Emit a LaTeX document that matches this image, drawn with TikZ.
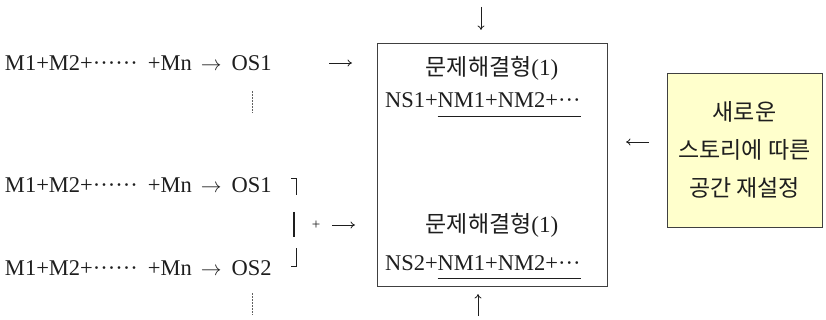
\documentclass[tikz,border=0pt]{standalone}
\usepackage{fontspec}
\setmainfont{Liberation Serif}
\newfontfamily\kr{Noto Sans CJK KR}
\usetikzlibrary{arrows.meta}
\definecolor{memo}{RGB}{255,255,204}
\definecolor{ink}{RGB}{30,30,30}
\newcommand{\rowarrow}{\hspace{9pt}$\rightarrow$\hspace{10pt}}
\tikzset{
  txt/.style={inner sep=0pt, outer sep=0pt, font=\fontsize{22.5}{27}\selectfont, text=ink},
  ktxt/.style={inner sep=0pt, outer sep=0pt, font=\kr\fontsize{23}{27}\selectfont, text=ink},
  conn/.style={draw=ink, line width=0.8pt, -{To[length=4.5pt,width=7pt]}},
  dots/.style={draw=ink!70, line width=0.6pt, dash pattern=on 1.6pt off 1.4pt},
  brk/.style={draw=ink, line width=0.9pt},
  mainbox/.style={draw=ink!85, line width=0.9pt},
  memobox/.style={draw=ink!85, line width=0.8pt, fill=memo, minimum width=155pt, minimum height=154pt, inner sep=0pt, align=center, font=\kr\fontsize{23}{38}\selectfont, text=ink},
  uline/.style={draw=ink, line width=0.8pt}
}
\begin{document}
\begin{tikzpicture}[x=1pt,y=-1pt]
\useasboundingbox (0,0) rectangle (826,320);
% main box
\node[mainbox, minimum width=230pt, minimum height=243pt, inner sep=0pt] (box) at (492,164.5) {};
% left rows
\node[txt, anchor=west] (r1) at (5,63) {M1+M2+······\hspace{10pt}+Mn\rowarrow OS1};
\node[txt, anchor=west] (r2) at (5,185) {M1+M2+······\hspace{10pt}+Mn\rowarrow OS1};
\node[txt, anchor=west] (r3) at (5,268) {M1+M2+······\hspace{10pt}+Mn\rowarrow OS2};
% box contents
\node[ktxt] (t1) at (492,68) {문제해결형\fontspec{Liberation Serif}(1)};
\node[txt, anchor=base west] (n1a) at (385,108) {NS1+};
\node[txt, anchor=base west] (n1b) at (n1a.base east) {NM1+NM2+···};
\draw[uline] ([yshift=-8pt]n1b.base west) -- (581,116) coordinate (u1);
\node[ktxt] (t2) at (492,225) {문제해결형\fontspec{Liberation Serif}(1)};
\node[txt, anchor=base west] (n2a) at (385,270) {NS2+};
\node[txt, anchor=base west] (n2b) at (n2a.base east) {NM1+NM2+···};
\draw[uline] ([yshift=-8pt]n2b.base west) -- (581,278) coordinate (u2);
% memo box
\node[memobox] (memo) at (744.5,150) {새로운\\스토리에 따른\\공간 재설정};
% standalone arrows
\coordinate (dtop) at (481,7);
\coordinate (dtope) at (481,30);
\draw[conn] (dtop) -- (dtope);
\coordinate (ubot) at (478,316);
\coordinate (ubote) at (478,294);
\draw[conn] (ubot) -- (ubote);
\coordinate (a1s) at (329,63);
\coordinate (a1e) at (352,63);
\draw[conn] (a1s) -- (a1e);
\coordinate (a2s) at (649,142);
\coordinate (a2e) at (626,142);
\draw[conn] (a2s) -- (a2e);
\coordinate (a3s) at (332,225);
\coordinate (a3e) at (355,225);
\draw[conn] (a3s) -- (a3e);
\node[txt, font=\fontsize{15}{18}\selectfont] (plus) at (316,225) {+};
% brackets
\draw[brk] (291,178) -- (296,178) -- (296,195);
\draw[brk, line width=1.3pt] (294,212) -- (294,237);
\draw[brk] (296,248) -- (296,266) -- (291,266);
% dotted continuations
\coordinate (d1a) at (252,91);
\coordinate (d1b) at (252,113);
\draw[dots] (d1a) -- (d1b);
\coordinate (d2a) at (252,293);
\coordinate (d2b) at (252,315);
\draw[dots] (d2a) -- (d2b);
\end{tikzpicture}
\end{document}
